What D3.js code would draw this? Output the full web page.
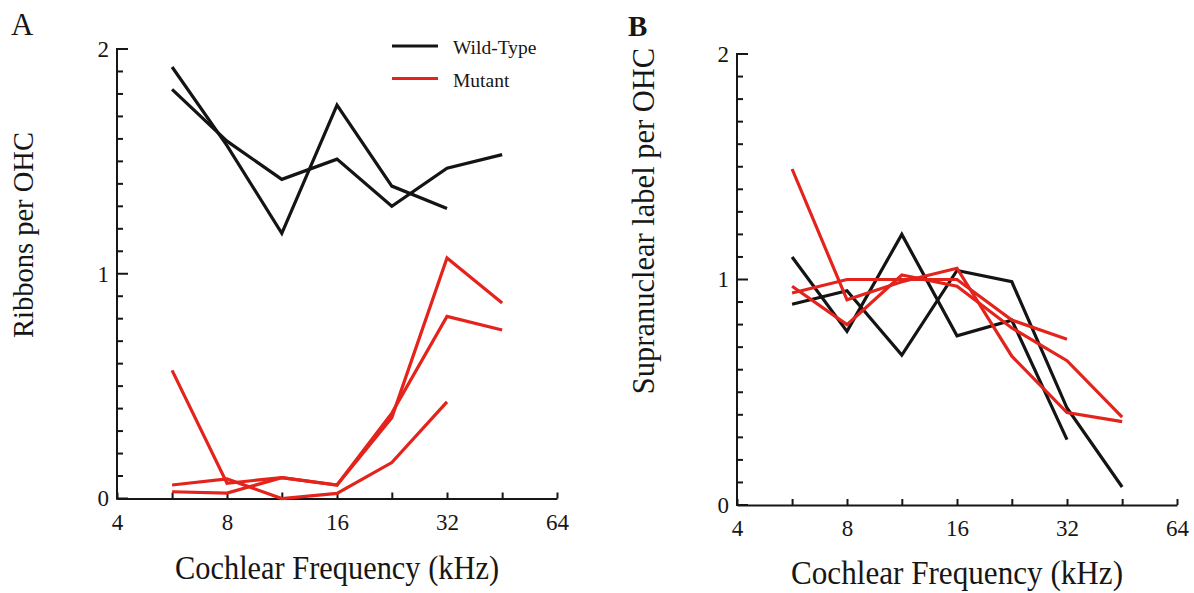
<!DOCTYPE html>
<html>
<head>
<meta charset="utf-8">
<script src="https://cdn.jsdelivr.net/npm/d3@7"></script>
<style>
  body { margin: 0; background: #fff; }
  svg { display: block; }
  text { font-family: "Liberation Serif", "Times New Roman", serif; fill: #161616; }
</style>
</head>
<body>
<svg id="chart" width="1194" height="593"></svg>
<script>
// Cochlear frequencies (kHz) sampled along the cochlea, half-octave steps
const frequencies = [5.66, 8, 11.3, 16, 22.6, 32, 45.3];
const xTickValues = [4, 5.66, 8, 11.3, 16, 22.6, 32, 45.3, 64];
const xTickLabels = [4, 8, 16, 32, 64];
const yMajorTicks = [0, 1, 2];
const yMinorTicks = [0.1, 0.2, 0.3, 0.4, 0.5, 0.6, 0.7, 0.8, 0.9,
                     1.1, 1.2, 1.3, 1.4, 1.5, 1.6, 1.7, 1.8, 1.9];

// Panel A: ribbons per OHC
const ribbonsWildType1 = [1.92, 1.57, 1.18, 1.75, 1.39, 1.29, null];
const ribbonsWildType2 = [1.82, 1.59, 1.42, 1.51, 1.30, 1.47, 1.53];
const ribbonsMutant1 = [0.57, 0.068, 0.093, 0.06, 0.36, 1.07, 0.87];
const ribbonsMutant2 = [0.03, 0.024, 0.093, 0.06, 0.38, 0.81, 0.75];
const ribbonsMutant3 = [0.06, 0.087, 0.0, 0.023, 0.16, 0.43, null];

// Panel B: supranuclear label per OHC
const labelWildType1 = [1.10, 0.77, 1.20, 0.75, 0.82, 0.29, null];
const labelWildType2 = [0.89, 0.95, 0.665, 1.04, 0.99, 0.43, 0.08];
const labelMutant1 = [1.49, 0.91, 0.99, 1.05, 0.66, 0.41, 0.37];
const labelMutant2 = [0.94, 1.00, 1.00, 1.00, 0.82, 0.735, null];
const labelMutant3 = [0.97, 0.80, 1.02, 0.97, 0.785, 0.64, 0.39];

const legendLabels = ["Wild-Type", "Mutant"];
const colors = { wt: "#141414", mut: "#e3231c", axis: "#161616" };

const svg = d3.select("#chart");

function drawPanel(cfg) {
  const x = d3.scaleLog().base(2).domain([4, 64]).range([cfg.left, cfg.right]);
  const y = d3.scaleLinear().domain([0, 2]).range([cfg.bottom, cfg.top]);
  const g = svg.append("g");

  // y axis line with inward ticks: short every 0.1, longer at integers
  g.append("line")
    .attr("x1", cfg.left).attr("x2", cfg.left)
    .attr("y1", y(0) + 1).attr("y2", y(2))
    .attr("stroke", colors.axis).attr("stroke-width", 2);
  const yTicks = yMinorTicks.map(v => ({ v, len: 6 }))
    .concat(yMajorTicks.map(v => ({ v, len: 11 })));
  g.selectAll("line.ytick")
    .data(yTicks)
    .join("line")
    .attr("class", "ytick")
    .attr("x1", cfg.left - 1)
    .attr("x2", d => cfg.left + d.len)
    .attr("y1", d => y(d.v))
    .attr("y2", d => y(d.v))
    .attr("stroke", colors.axis)
    .attr("stroke-width", 2);
  g.selectAll("text.ylab")
    .data(yMajorTicks)
    .join("text")
    .attr("class", "ylab")
    .attr("x", cfg.left - 8)
    .attr("y", d => y(d))
    .attr("dy", "0.34em")
    .attr("text-anchor", "end")
    .attr("font-size", 23)
    .text(d3.format("d"));

  // x axis on a log2 scale, ticks at every half octave
  const xAx = g.append("g")
    .attr("transform", `translate(0,${cfg.bottom})`)
    .call(d3.axisBottom(x).tickValues(xTickValues).tickSizeInner(-6).tickSizeOuter(0)
      .tickPadding(15).tickFormat(d => xTickLabels.includes(d) ? String(d) : ""));
  xAx.attr("font-family", null).attr("font-size", null);
  xAx.selectAll("text").attr("font-size", 23);
  xAx.selectAll(".domain, .tick line").attr("stroke", colors.axis).attr("stroke-width", 2);

  // data lines
  const line = d3.line()
    .defined(d => d[1] != null)
    .x(d => x(d[0]))
    .y(d => y(d[1]));
  cfg.series.forEach(s => {
    g.append("path")
      .datum(frequencies.map((f, i) => [f, s.values[i]]))
      .attr("d", line)
      .attr("fill", "none")
      .attr("stroke", colors[s.kind])
      .attr("stroke-width", 3.2)
      .attr("stroke-linejoin", "miter");
  });

  // axis titles
  g.append("text")
    .attr("x", (cfg.left + cfg.right) / 2)
    .attr("y", cfg.xTitleY)
    .attr("text-anchor", "middle")
    .attr("textLength", cfg.xTitleLen)
    .attr("lengthAdjust", "spacingAndGlyphs")
    .attr("font-size", 34)
    .text("Cochlear Frequency (kHz)");
  g.append("text")
    .attr("transform", `translate(${cfg.yTitleX},${cfg.yTitleY}) rotate(-90)`)
    .attr("text-anchor", "middle")
    .attr("font-size", cfg.yTitleSize)
    .text(cfg.yTitle);

  // panel letter
  g.append("text")
    .attr("x", cfg.letterX)
    .attr("y", cfg.letterY)
    .attr("font-size", cfg.letterSize)
    .attr("font-weight", cfg.letterBold ? "bold" : "normal")
    .text(cfg.letter);
}

drawPanel({
  left: 117, right: 557, top: 49, bottom: 498.5,
  xTitleY: 579, xTitleLen: 324,
  yTitle: "Ribbons per OHC", yTitleX: 33, yTitleY: 235, yTitleSize: 28.5,
  letter: "A", letterX: 11, letterY: 35, letterSize: 31, letterBold: false,
  series: [
    { kind: "wt", values: ribbonsWildType1 },
    { kind: "wt", values: ribbonsWildType2 },
    { kind: "mut", values: ribbonsMutant1 },
    { kind: "mut", values: ribbonsMutant2 },
    { kind: "mut", values: ribbonsMutant3 }
  ]
});

drawPanel({
  left: 737, right: 1177, top: 54, bottom: 505,
  xTitleY: 584, xTitleLen: 332,
  yTitle: "Supranuclear label per OHC", yTitleX: 654, yTitleY: 221, yTitleSize: 30.5,
  letter: "B", letterX: 628, letterY: 36, letterSize: 29, letterBold: true,
  series: [
    { kind: "wt", values: labelWildType1 },
    { kind: "wt", values: labelWildType2 },
    { kind: "mut", values: labelMutant1 },
    { kind: "mut", values: labelMutant2 },
    { kind: "mut", values: labelMutant3 }
  ]
});

// legend (panel A)
const legend = svg.append("g").attr("transform", "translate(392,46)");
legendLabels.forEach((lbl, i) => {
  const row = legend.append("g").attr("transform", `translate(0,${i * 32.5})`);
  row.append("line")
    .attr("x1", 0).attr("x2", 46).attr("y1", 0).attr("y2", 0)
    .attr("stroke", i === 0 ? colors.wt : colors.mut)
    .attr("stroke-width", 3);
  row.append("text")
    .attr("x", 61).attr("y", 8)
    .attr("font-size", 19.5)
    .text(lbl);
});
</script>
</body>
</html>
